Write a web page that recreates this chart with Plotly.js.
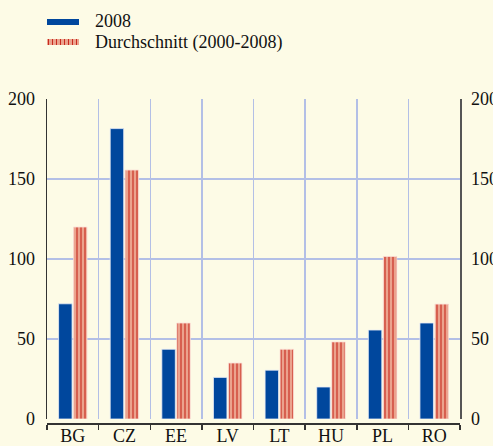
<!DOCTYPE html>
<html><head><meta charset="utf-8">
<script src="https://cdn.plot.ly/plotly-3.0.1.min.js"></script>
<style>html,body{margin:0;padding:0;background:#fdfbe6;}#chart{width:493px;height:446px;}</style>
</head><body><div id="chart"></div>
<script>
const categories = ['BG','CZ','EE','LV','LT','HU','PL','RO'];
const values2008 = [72, 181.5, 43.6, 26, 30.5, 20, 55.6, 60];
const valuesAvg = [120, 155.6, 60, 35, 43.6, 48.2, 101.6, 71.8];
const yTicks = [0, 50, 100, 150, 200];
const seriesNames = ['2008', 'Durchschnitt (2000-2008)'];

const blue = '#00479d';
const salmon = '#eba38e';
const stripe = '#c82a1e';
const gridC = '#b3bfe6';
const font = {family: 'Liberation Serif', size: 18, color: '#111'};

const traces = [
  {type:'bar', x:categories, y:values2008, name:seriesNames[0], marker:{color:blue, line:{color:'#e8ecf6', width:0.8}}, showlegend:false},
  {type:'bar', x:categories, y:valuesAvg, name:seriesNames[1], marker:{color:salmon, line:{color:'#fbe0d8', width:0.8}, pattern:{shape:'|', fgcolor:stripe, bgcolor:salmon, size:4, solidity:0.28}}, showlegend:false},
  {type:'scatter', x:categories, y:valuesAvg, yaxis:'y2', mode:'none', showlegend:false, hoverinfo:'skip'}
];

// paper coordinate helpers (plot area: x 47..460, y 99..423)
function px(x){return (x-47)/413;}
function py(y){return (423-y)/324;}
const shapes = [];
shapes.push({type:'rect', xref:'paper', yref:'paper', x0:px(47), x1:px(79), y0:py(25), y1:py(19), fillcolor:blue, line:{width:0}});
shapes.push({type:'rect', xref:'paper', yref:'paper', x0:px(47), x1:px(79), y0:py(45), y1:py(39), fillcolor:salmon, line:{width:0}});
for (let i=0;i<8;i++){
  const xx = 48.5 + i*4;
  shapes.push({type:'line', xref:'paper', yref:'paper', x0:px(xx), x1:px(xx), y0:py(45), y1:py(39), line:{color:stripe, width:1}});
}

const annotations = [
  {xref:'paper', yref:'paper', x:px(93), y:py(21), xanchor:'left', yanchor:'middle', text:seriesNames[0], showarrow:false, font:{...font, size:18}},
  {xref:'paper', yref:'paper', x:px(93), y:py(42), xanchor:'left', yanchor:'middle', text:seriesNames[1], showarrow:false, font:{...font, size:18}}
];

const yDom = [4/324, 1];
const layout = {
  width:493, height:446,
  margin:{l:47, r:33, t:99, b:23},
  paper_bgcolor:'#fdfbe6', plot_bgcolor:'#fdfbe6',
  font:font,
  barmode:'group', bargap:0.42, bargroupgap:0.1,
  showlegend:false,
  xaxis:{type:'category', tickson:'boundaries', ticks:'outside', ticklen:5, tickwidth:1.5, tickcolor:'#333', showline:true, linecolor:'#333', linewidth:1.5,
         anchor:'free', position:0, ticklabelstandoff:-4,
         showgrid:true, gridcolor:gridC, gridwidth:1.5, tickfont:{...font, size:18}, fixedrange:true},
  yaxis:{domain:yDom, range:[0,200], tickmode:'array', tickvals:yTicks, showgrid:true, gridcolor:gridC, gridwidth:1.5, zeroline:false,
         showline:true, linecolor:'#333', linewidth:1.5, ticks:'', ticklabelstandoff:7, tickfont:{...font, size:18}},
  yaxis2:{domain:yDom, range:[0,200], tickmode:'array', tickvals:yTicks, overlaying:'y', side:'right', showgrid:true, gridcolor:gridC, gridwidth:1.5, zeroline:false,
          showline:true, linecolor:'#555', linewidth:1.5, ticks:'', ticklabelstandoff:6, tickfont:{...font, size:18}},
  shapes:shapes, annotations:annotations
};

Plotly.newPlot('chart', traces, layout, {displayModeBar:false, staticPlot:true});
</script></body></html>
